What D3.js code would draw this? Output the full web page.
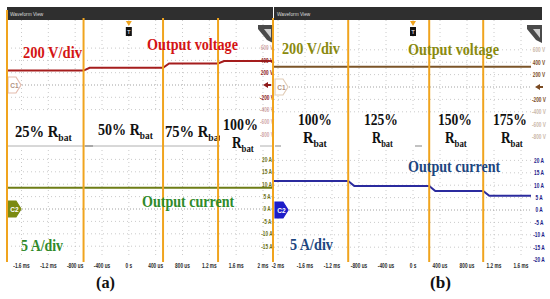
<!DOCTYPE html>
<html>
<head>
<meta charset="utf-8">
<script src="https://cdn.jsdelivr.net/npm/d3@7"></script>
<style>
  body { margin: 0; background: #fff; }
  svg { display: block; }
</style>
</head>
<body>
<svg id="chart" width="550" height="299"></svg>
<script>
// time axis ticks (ms) of each scope capture
var timeTicksA = [-1.6, -1.2, -0.8, -0.4, 0, 0.4, 0.8, 1.2, 1.6, 2];
var timeTicksB = [-2, -1.6, -1.2, -0.8, -0.4, 0, 0.4, 0.8, 1.2, 1.6];
// load steps
var loadsA = ["25%", "50%", "75%", "100%"];
var loadsB = ["100%", "125%", "150%", "175%"];
var switchA = [-0.675, 0.51, 1.33];   // ms, time of each load change
var switchB = [-0.96, 0.24, 1.04];
// trace levels for each load step
var voltA = [235, 280, 350, 390];     // V
var voltB = [325, 325, 325, 325];
var currA = [8.6, 8.6, 8.6, 8.6];     // A
var currB = [11.7, 9.7, 7.7, 5.7];
// vertical axis labels
var voltTicks = [600, 400, 200, 0, -200, -400, -600, -800];
var currTicksA = [20, 15, 10, 5, 0, -5, -10, -15];
var currTicksB = [20, 15, 10, 5, 0, -5, -10, -15, -20];

var svg = d3.select("#chart");
svg.append("rect").attr("width", 550).attr("height", 299).attr("fill", "#fff");

var serif = "'Liberation Serif','Times New Roman',serif";
var orange = "#f0a41e";

function fmtTime(t) {
  if (t == 0) return "0 s";
  if (Math.abs(t) < 1) return Math.round(t * 1000) + " us";
  return t + " ms";
}

var panels = [
  {
    left: 7, right: 273, headR: 273,
    x: d3.scaleLinear().domain([-1.6, 2]).range([21.5, 263]),
    yV: d3.scaleLinear().domain([0, 200]).range([85, 72.7]),
    yI: d3.scaleLinear().domain([0, 5]).range([209, 196.6]),
    ticks: timeTicksA, sw: switchA, volt: voltA, curr: currA, currTicks: currTicksA,
    vCol: "#a51d1d", iCol: "#6e7d16", vLab: "#8e1a1a", iLab: "#6e7418",
    c1: "#e4bcae", c2: "#7a8a12", labelX: 267
  },
  {
    left: 274, right: 531, headR: 542,
    x: d3.scaleLinear().domain([-2, 1.6]).range([278, 521]),
    yV: d3.scaleLinear().domain([0, 200]).range([87, 74.6]),
    yI: d3.scaleLinear().domain([0, 5]).range([210, 197.6]),
    ticks: timeTicksB, sw: switchB, volt: voltB, curr: currB, currTicks: currTicksB,
    vCol: "#7b5428", iCol: "#2b2b9e", vLab: "#7a4a22", iLab: "#1c1c88",
    c1: "#e2cdb8", c2: "#1d1dc8", labelX: 539
  }
];

function tracePoints(p, levels) {
  var t0 = p.x.invert(p.left), t1 = p.x.invert(p.right);
  var pts = [[t0, levels[0]]];
  p.sw.forEach(function (s, i) {
    pts.push([s, levels[i]]);
    pts.push([s + 0.09, levels[i + 1]]);
  });
  pts.push([t1, levels[levels.length - 1]]);
  return pts;
}

function smallText(g, x, y, txt, col, anchor, sx) {
  g.append("text")
    .attr("transform", "translate(" + x + "," + y + ") scale(" + sx + ",1)")
    .attr("text-anchor", anchor)
    .attr("font-family", "Liberation Sans, Arial, sans-serif")
    .attr("font-weight", "bold")
    .attr("font-size", 6.8)
    .attr("fill", col)
    .text(txt);
}

function marker(g, x, y, stroke, fill, txtCol, txt) {
  g.append("path")
    .attr("d", "M" + x + "," + (y - 8) + "h8l5,8l-5,8h-8z")
    .attr("fill", fill).attr("stroke", stroke).attr("stroke-width", 1.2);
  g.append("text").attr("x", x + 6.5).attr("y", y + 2.5).attr("text-anchor", "middle")
    .attr("font-family", "Liberation Sans, Arial, sans-serif").attr("font-size", 6.5)
    .attr("font-weight", "bold")
    .attr("fill", txtCol).text(txt);
}

panels.forEach(function (p) {
  var g = svg.append("g");

  // header bar
  g.append("rect").attr("x", p.left).attr("y", 7).attr("width", p.headR - p.left).attr("height", 13)
    .attr("fill", "#2f2f2f");
  g.append("text").attr("transform", "translate(" + (p.left + 3) + ",16) scale(0.8,1)")
    .attr("font-family", "Liberation Sans, Arial, sans-serif").attr("font-size", 6)
    .attr("fill", "#ddd").text("Waveform View");

  // dotted grid
  var grid = g.append("g").attr("stroke", "#bdbdbd").attr("stroke-width", 0.8)
    .attr("stroke-dasharray", "1,3");
  p.ticks.forEach(function (t) {
    grid.append("line").attr("x1", p.x(t)).attr("x2", p.x(t)).attr("y1", 20).attr("y2", 112);
    grid.append("line").attr("x1", p.x(t)).attr("x2", p.x(t)).attr("y1", 150).attr("y2", 258);
  });
  voltTicks.forEach(function (v) {
    var y = p.yV(v);
    if (y > 112 || v == 0) return;
    grid.append("line").attr("x1", p.left).attr("x2", p.right).attr("y1", y).attr("y2", y);
  });
  p.currTicks.forEach(function (c) {
    var y = p.yI(c);
    if (y < 150 || y > 258 || c == 0) return;
    grid.append("line").attr("x1", p.left).attr("x2", p.right).attr("y1", y).attr("y2", y);
  });

  // channel zero lines
  g.append("line").attr("x1", p.left + 12).attr("x2", p.right).attr("y1", p.yV(0)).attr("y2", p.yV(0))
    .attr("stroke", "#8a8a8a").attr("stroke-width", 0.8).attr("stroke-dasharray", "1,2");
  g.append("line").attr("x1", p.left + 12).attr("x2", p.right).attr("y1", p.yI(0)).attr("y2", p.yI(0))
    .attr("stroke", "#8a8a8a").attr("stroke-width", 0.8).attr("stroke-dasharray", "1,2");

  // traces
  var lineV = d3.line().x(function (d) { return p.x(d[0]); }).y(function (d) { return p.yV(d[1]); });
  var lineI = d3.line().x(function (d) { return p.x(d[0]); }).y(function (d) { return p.yI(d[1]); });
  g.append("path").attr("d", lineV(tracePoints(p, p.volt))).attr("fill", "none")
    .attr("stroke", p.vCol).attr("stroke-width", 2);
  g.append("path").attr("d", lineI(tracePoints(p, p.curr))).attr("fill", "none")
    .attr("stroke", p.iCol).attr("stroke-width", 2);

  // right axis labels
  voltTicks.forEach(function (v) {
    if (v == 0) {
      g.append("path").attr("d", "M" + (p.labelX - 4) + "," + p.yV(0) + "l5,-3v2h3v2h-3v2z")
        .attr("fill", p.vLab);
      return;
    }
    var faded = (v >= 600 || v <= -400);
    g.append("g").attr("opacity", faded ? 0.4 : 1).call(function (s) {
      smallText(s, p.labelX, p.yV(v) + 2.3, v + " V", p.vLab, "middle", 0.7);
    });
  });
  p.currTicks.forEach(function (c) {
    smallText(g, p.labelX, p.yI(c) + 2.3, c + " A", p.iLab, "middle", 0.7);
  });

  // time tick labels
  p.ticks.forEach(function (t) {
    smallText(g, p.x(t), 268, fmtTime(t), "#2a2a2a", "middle", 0.7);
  });

  // channel markers
  marker(g, p.left + 1, p.yV(0), p.c1, "#fff", "#b09080", "C1");
  marker(g, p.left + 1, p.yI(0), p.c2, p.c2, "#fff", "C2");

  // trigger marker at t = 0
  var tx = p.x(0);
  g.append("path").attr("d", "M" + (tx - 3) + ",21h6l-3,5z").attr("fill", orange);
  g.append("rect").attr("x", tx - 3).attr("y", 27).attr("width", 6).attr("height", 9).attr("fill", "#111");
  g.append("text").attr("x", tx).attr("y", 34).attr("text-anchor", "middle")
    .attr("font-family", "Liberation Sans, Arial, sans-serif").attr("font-size", 6)
    .attr("fill", "#fff").text("T");

  // zoom widget corner
  var zr = p.headR;
  g.append("path").attr("d", "M" + (zr - 15) + ",25h15v18l-6,-3l-9,-11z").attr("fill", "#4a4a4a");
  g.append("path").attr("d", "M" + (zr - 9) + ",29h7v9z").attr("fill", "#cfcfcf");
});

// separator between voltage and current grids
svg.append("line").attr("x1", 7).attr("x2", 273).attr("y1", 146).attr("y2", 146)
  .attr("stroke", "#b0b0b0").attr("stroke-width", 1);
svg.append("line").attr("x1", 85).attr("x2", 93).attr("y1", 146).attr("y2", 146)
  .attr("stroke", "#888").attr("stroke-width", 1.2);
[[275, 281], [415, 422]].forEach(function (d) {
  svg.append("line").attr("x1", d[0]).attr("x2", d[1]).attr("y1", 146).attr("y2", 146)
    .attr("stroke", "#999").attr("stroke-width", 1.2);
});

function label(parts, x, y, w, size, color) {
  var t = svg.append("text").attr("font-family", serif).attr("font-weight", "bold")
    .attr("font-size", size).attr("fill", color);
  parts.forEach(function (pt) {
    var ts = t.append("tspan").text(pt.s);
    if (pt.sub) ts.attr("font-size", size * 0.66).attr("dy", size * 0.22);
  });
  var bb = t.node().getBBox();
  t.attr("transform", "translate(" + x + "," + y + ") scale(" + (w / bb.width) + ",1)");
  return t;
}

// panel (a) load labels
var posA = [{ x: 15, y: 137, w: 57 }, { x: 98, y: 135, w: 55 }, { x: 165, y: 137, w: 57 }];
posA.forEach(function (q, i) {
  label([{ s: loadsA[i] + " R" }, { s: "bat", sub: true }], q.x, q.y, q.w, 17, "#111");
});
svg.append("rect").attr("x", 220).attr("y", 113).attr("width", 40).attr("height", 37).attr("fill", "#fff");
label([{ s: loadsA[3] }], 223, 130, 35, 17, "#111");
label([{ s: "R" }, { s: "bat", sub: true }], 232, 148, 22, 17, "#111");

// panel (b) load labels
var posB = [
  { x: 298, rx: 303, rw: 24 }, { x: 364, rx: 372, rw: 21 },
  { x: 438, rx: 445, rw: 22 }, { x: 493, rx: 501, rw: 22 }
];
posB.forEach(function (q, i) {
  label([{ s: loadsB[i] }], q.x, 125, 34, 17, "#111");
  label([{ s: "R" }, { s: "bat", sub: true }], q.rx, 143, q.rw, 17, "#111");
});

// orange load-change markers
var markA = [panels[0].left].concat(switchA.map(panels[0].x), [273]);
markA.forEach(function (x, i) {
  svg.append("line").attr("x1", x).attr("x2", x).attr("y1", i == 0 ? 10 : 18).attr("y2", 262)
    .attr("stroke", orange).attr("stroke-width", 2);
});
switchB.map(panels[1].x).forEach(function (x) {
  svg.append("line").attr("x1", x).attr("x2", x).attr("y1", 20).attr("y2", 262)
    .attr("stroke", orange).attr("stroke-width", 2);
});

// channel annotations
label([{ s: "200 V/div" }], 23, 58, 59, 16, "#d41414");
label([{ s: "Output voltage" }], 147, 50, 91, 16, "#d41414");
label([{ s: "Output current" }], 142, 207, 93, 16, "#2f8a2a");
label([{ s: "5 A/div" }], 21, 251, 42, 16, "#2f8a2a");

label([{ s: "200 V/div" }], 282, 54, 58, 16, "#8a8a0e");
label([{ s: "Output voltage" }], 408, 55, 91, 16, "#8a8a0e");
label([{ s: "Output current" }], 408, 172, 93, 16, "#1d4680");
label([{ s: "5 A/div" }], 290, 250, 43, 16, "#1d4680");

// sub-figure captions
label([{ s: "(a)" }], 96, 288, 19, 16, "#111");
label([{ s: "(b)" }], 430, 288, 21, 16, "#111");
</script>
</body>
</html>
